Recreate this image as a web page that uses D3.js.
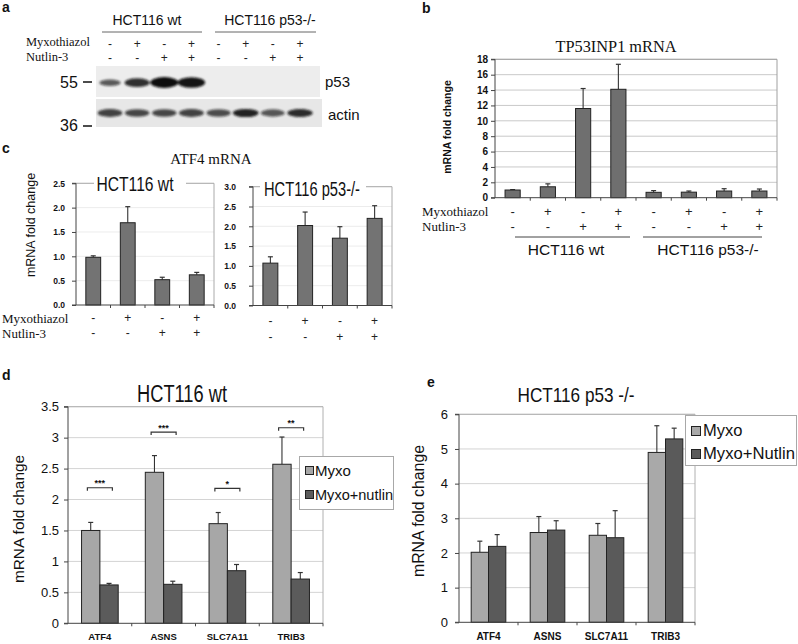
<!DOCTYPE html>
<html><head><meta charset="utf-8">
<script src="https://cdn.jsdelivr.net/npm/d3@7"></script>
<style>body{margin:0;background:#fff}svg{display:block}</style>
</head><body><script>
// ---------------- DATA ----------------
const myxoSigns   = ["-","+","-","+","-","+","-","+"];
const nutlinSigns = ["-","-","+","+","-","-","+","+"];
const blotLanes = [1,2,3,4,5,6,7,8];
const p53Intensity   = [0.45,0.75,1.0,0.95,0,0,0,0];
const actinIntensity = [0.8,0.75,0.75,0.8,0.72,0.95,0.68,0.9];

const tp53Lanes = ["L1","L2","L3","L4","L5","L6","L7","L8"];
const tp53Mean = [1.0,1.42,11.6,14.1,0.7,0.72,0.87,0.87];
const tp53Err  = [0.05,0.38,2.6,3.25,0.22,0.15,0.3,0.26];
const tp53Ticks = [0,2,4,6,8,10,12,14,16,18];

const atf4Lanes = ["L1","L2","L3","L4"];
const atf4WtMean = [0.98,1.69,0.52,0.62];
const atf4WtErr  = [0.03,0.33,0.05,0.05];
const atf4KoMean = [1.07,2.02,1.70,2.20];
const atf4KoErr  = [0.16,0.34,0.29,0.32];
const atf4WtTicks = [0,0.5,1.0,1.5,2.0,2.5];
const atf4KoTicks = [0,0.5,1.0,1.5,2.0,2.5,3.0];

const genes = ["ATF4","ASNS","SLC7A11","TRIB3"];
const dMyxo    = [1.5,2.44,1.61,2.57];
const dMyxoErr = [0.13,0.27,0.18,0.44];
const dNut     = [0.62,0.63,0.85,0.715];
const dNutErr  = [0.025,0.05,0.1,0.105];
const dSig      = ["***","***","*","**"];
const dSigLevel = [2.19,3.09,2.18,3.16];
const dTicks = [0,0.5,1,1.5,2,2.5,3,3.5];

const eMyxo    = [2.02,2.59,2.51,4.9];
const eMyxoErr = [0.32,0.46,0.34,0.77];
const eNut     = [2.19,2.66,2.44,5.29];
const eNutErr  = [0.34,0.27,0.78,0.31];
const eTicks = [0,1,2,3,4,5,6];

// ---------------- HELPERS ----------------
const SANS = "'Liberation Sans', Arial, sans-serif";
const SERIF = "'Liberation Serif', 'Times New Roman', serif";
const svg = d3.select("body").append("svg").attr("width",798).attr("height",644);
const defs = svg.append("defs");
defs.append("filter").attr("id","blur").attr("x","-50%").attr("y","-100%").attr("width","200%").attr("height","300%")
  .append("feGaussianBlur").attr("stdDeviation",1.3);

function txt(g,x,y,s,o={}){
  const t=g.append("text").attr("x",x).attr("y",y).text(s)
    .attr("font-family",o.font||SANS).attr("font-size",o.size||12)
    .attr("fill",o.fill||"#111").attr("text-anchor",o.anchor||"start");
  if(o.weight) t.attr("font-weight",o.weight);
  if(o.width) t.attr("textLength",o.width).attr("lengthAdjust","spacingAndGlyphs");
  if(o.rotate) t.attr("transform",`rotate(${o.rotate},${x},${y})`);
  return t;
}
function line(g,x1,y1,x2,y2,c,w){
  return g.append("line").attr("x1",x1).attr("y1",y1).attr("x2",x2).attr("y2",y2)
    .attr("stroke",c||"#222").attr("stroke-width",w||1);
}

function barChart(g,cfg){
  const x=d3.scaleBand().domain(cfg.cats).range([cfg.x0,cfg.x1]);
  const y=d3.scaleLinear().domain([0,cfg.max]).range([cfg.yb,cfg.yt]);
  const gw=x.bandwidth()*cfg.groupFrac, off=(x.bandwidth()-gw)/2;
  const inner=d3.scaleBand().domain(d3.range(cfg.series.length)).range([0,gw]);
  g.append("g").selectAll("line").data(cfg.ticks.filter(t=>t>0)).join("line")
    .attr("x1",cfg.x0).attr("x2",cfg.x1).attr("y1",d=>y(d)).attr("y2",d=>y(d))
    .attr("stroke",cfg.grid).attr("stroke-width",1);
  if(cfg.frame){
    line(g,cfg.x0,y(cfg.max),cfg.x1,y(cfg.max),cfg.frame,1);
    line(g,cfg.x1,y(cfg.max),cfg.x1,cfg.yb,cfg.frame,1);
  }
  cfg.series.forEach((s,si)=>{
    const bars=g.append("g");
    const cx=c=>x(c)+off+inner(si)+inner.bandwidth()/2;
    bars.append("g").selectAll("line").data(cfg.cats).join("line")
      .attr("x1",cx).attr("x2",cx)
      .attr("y1",(c,i)=>y(s.values[i])).attr("y2",(c,i)=>y(s.values[i]+s.errs[i]))
      .attr("stroke","#333").attr("stroke-width",1.1);
    bars.append("g").selectAll("line").data(cfg.cats).join("line")
      .attr("x1",c=>cx(c)-2.5).attr("x2",c=>cx(c)+2.5)
      .attr("y1",(c,i)=>y(s.values[i]+s.errs[i])).attr("y2",(c,i)=>y(s.values[i]+s.errs[i]))
      .attr("stroke","#333").attr("stroke-width",1.2);
    bars.append("g").selectAll("rect").data(cfg.cats).join("rect")
      .attr("x",c=>x(c)+off+inner(si)).attr("width",inner.bandwidth())
      .attr("y",(c,i)=>y(s.values[i])).attr("height",(c,i)=>cfg.yb-y(s.values[i]))
      .attr("fill",s.fill).attr("stroke","#222").attr("stroke-width",1);
  });
  const ts=cfg.tickSize||4;
  const ya=g.append("g").attr("transform",`translate(${cfg.x0},0)`)
    .call(d3.axisLeft(y).tickValues(cfg.ticks).tickFormat(cfg.fmt).tickSize(ts).tickPadding(cfg.pad||4));
  ya.select(".domain").attr("stroke","#444").attr("d",`M-${ts},${cfg.yb}H0V${y(cfg.max)}H-${ts}`);
  ya.selectAll(".tick line").attr("stroke","#444");
  ya.selectAll(".tick text").attr("font-family",SANS).attr("font-size",cfg.tickFont)
    .attr("font-weight",cfg.tickWeight||"normal").attr("fill","#111");
  const xa=g.append("g").attr("transform",`translate(0,${cfg.yb})`)
    .call(d3.axisBottom(x).tickSize(0).tickFormat(cfg.xfmt||(()=>"")).tickPadding(cfg.xpad||8));
  xa.select(".domain").attr("stroke","#444").attr("d",`M${cfg.x0},0H${cfg.x1}`);
  if(!cfg.xfmt) xa.selectAll(".tick text").remove();
  xa.selectAll(".tick text").attr("font-family",SANS).attr("font-size",cfg.xFont||9)
    .attr("font-weight","bold").attr("fill","#111");
  g.append("g").selectAll("line").data(cfg.cats.slice(1).concat([null])).join("line")
    .attr("x1",c=>c===null?cfg.x1:x(c)).attr("x2",c=>c===null?cfg.x1:x(c))
    .attr("y1",cfg.yb).attr("y2",cfg.yb+3).attr("stroke","#444");
  return {x,y,off,gw,inner};
}

function signRows(g,xs,y1,y2,size){
  const n=xs.length;
  [[myxoSigns.slice(0,n),y1],[nutlinSigns.slice(0,n),y2]].forEach(([arr,yy])=>{
    g.append("g").selectAll("text").data(arr).join("text")
      .attr("x",(d,i)=>xs[i]).attr("y",yy).text(d=>d)
      .attr("text-anchor","middle").attr("font-family",SANS).attr("font-size",size).attr("fill","#222");
  });
}

// ---------------- PANEL A ----------------
const A=svg.append("g");
txt(A,2,12,"a",{size:14,weight:"bold"});
txt(A,147,25,"HCT116 wt",{size:14,anchor:"middle"});
txt(A,270,25,"HCT116 p53-/-",{size:14,anchor:"middle"});
line(A,102,32,202,32,"#666",1);
line(A,215,32,316,32,"#666",1);
txt(A,26,46,"Myxothiazol",{size:12.5,font:SERIF});
txt(A,26,61,"Nutlin-3",{size:12.5,font:SERIF});
const lane=d3.scalePoint().domain(blotLanes).range([110,300]);
signRows(A,blotLanes.map(l=>lane(l)),48,62,12);
A.append("rect").attr("x",96).attr("y",66).attr("width",224).attr("height",31).attr("fill","#ededed");
A.append("rect").attr("x",96).attr("y",99).attr("width",226).attr("height",28).attr("fill","#e7e7e7");
A.append("g").attr("filter","url(#blur)").selectAll("ellipse").data(blotLanes.filter((l,i)=>p53Intensity[i]>0)).join("ellipse")
  .attr("cx",l=>lane(l)).attr("cy",l=>83-p53Intensity[l-1]*0.5)
  .attr("rx",l=>8+6*p53Intensity[l-1]).attr("ry",l=>1.6+3.8*p53Intensity[l-1])
  .attr("fill","#111").attr("opacity",l=>0.4+0.6*p53Intensity[l-1]);
A.append("g").attr("filter","url(#blur)").selectAll("ellipse").data(blotLanes).join("ellipse")
  .attr("cx",l=>lane(l)).attr("cy",113)
  .attr("rx",l=>10+3*actinIntensity[l-1]).attr("ry",l=>2.6+1.6*actinIntensity[l-1])
  .attr("fill","#151515").attr("opacity",l=>actinIntensity[l-1]);
txt(A,60,88,"55",{size:16});
line(A,83,82,92,82,"#111",1.5);
txt(A,60,131,"36",{size:16});
line(A,83,126,92,126,"#111",1.5);
txt(A,325,87,"p53",{size:15});
txt(A,328,120,"actin",{size:15});

// ---------------- PANEL B ----------------
const B=svg.append("g");
txt(B,422,13,"b",{size:14,weight:"bold"});
txt(B,616,52,"TP53INP1  mRNA",{size:16,font:SERIF,anchor:"middle",width:121});
const bc=barChart(B,{x0:495,x1:777,yb:197.7,yt:59.3,max:18,cats:tp53Lanes,
  series:[{values:tp53Mean,errs:tp53Err,fill:"#6f6f6f"}],groupFrac:0.43,ticks:tp53Ticks,
  fmt:d3.format("d"),grid:"#c9c9c9",frame:"#a0a0a0",tickFont:10,tickWeight:"bold",pad:3});
txt(B,451,127,"mRNA fold change",{size:10.5,weight:"bold",anchor:"middle",rotate:-90});
txt(B,422,216,"Myxothiazol",{size:13,font:SERIF});
txt(B,422,231,"Nutlin-3",{size:13,font:SERIF});
signRows(B,tp53Lanes.map(c=>bc.x(c)+bc.x.bandwidth()/2),216,231,13);
line(B,515,237,630,237,"#444",1);
line(B,643,237,762,237,"#444",1);
txt(B,566,255,"HCT116 wt",{size:15.5,anchor:"middle"});
txt(B,708,255,"HCT116 p53-/-",{size:15.5,anchor:"middle"});

// ---------------- PANEL C ----------------
const C=svg.append("g");
txt(C,2,153,"c",{size:14,weight:"bold"});
txt(C,211,164,"ATF4 mRNA",{size:15,font:SERIF,anchor:"middle"});
const cl=barChart(C,{x0:76,x1:214,yb:305,yt:183.3,max:2.5,cats:atf4Lanes,
  series:[{values:atf4WtMean,errs:atf4WtErr,fill:"#737373"}],groupFrac:0.43,ticks:atf4WtTicks,
  fmt:d3.format(".1f"),grid:"#ececec",frame:"#aaaaaa",tickFont:8.5,tickWeight:"bold",pad:7});
C.append("rect").attr("x",94).attr("y",174).attr("width",92).attr("height",20).attr("fill","#fff");
txt(C,135,191,"HCT116 wt",{size:20,anchor:"middle",width:77});
const cr=barChart(C,{x0:253,x1:392,yb:305.5,yt:186.7,max:3,cats:atf4Lanes,
  series:[{values:atf4KoMean,errs:atf4KoErr,fill:"#737373"}],groupFrac:0.43,ticks:atf4KoTicks,
  fmt:d3.format(".1f"),grid:"#ececec",frame:"#aaaaaa",tickFont:8.5,tickWeight:"bold",pad:13});
C.append("rect").attr("x",260).attr("y",178).attr("width",106).attr("height",20).attr("fill","#fff");
txt(C,312,196,"HCT116 p53-/-",{size:20,anchor:"middle",width:96});
txt(C,35,225,"mRNA fold change",{size:12.5,anchor:"middle",rotate:-90});
txt(C,2,323,"Myxothiazol",{size:13,font:SERIF});
txt(C,2,338,"Nutlin-3",{size:13,font:SERIF});
signRows(C,atf4Lanes.map(c=>cl.x(c)+cl.x.bandwidth()/2),322,337,12);
signRows(C,atf4Lanes.map(c=>cr.x(c)+cr.x.bandwidth()/2),325,341,12);

// ---------------- PANEL D ----------------
const D=svg.append("g");
txt(D,2,380,"d",{size:14,weight:"bold"});
txt(D,182,402,"HCT116 wt",{size:23,anchor:"middle",width:90});
const dc=barChart(D,{x0:68,x1:323,yb:623.3,yt:406.7,max:3.5,cats:genes,
  series:[{values:dMyxo,errs:dMyxoErr,fill:"#a7a7a7"},{values:dNut,errs:dNutErr,fill:"#5b5b5b"}],
  groupFrac:0.575,ticks:dTicks,fmt:d3.format(""),grid:"#d4d4d4",frame:"#b0b0b0",tickFont:13,pad:5,
  xfmt:d=>d,xFont:9.5,xpad:10});
const br=D.append("g");
genes.forEach((gname,i)=>{
  const cx=dc.x(gname)+dc.x.bandwidth()/2, yy=dc.y(dSigLevel[i]);
  br.append("path").attr("d",`M${cx-12.5},${yy+3}V${yy}H${cx+12.5}V${yy+3}`)
    .attr("fill","none").attr("stroke","#333").attr("stroke-width",1.2);
  txt(br,cx,yy-1.5,dSig[i],{size:9,anchor:"middle",weight:"bold"});
});
D.append("rect").attr("x",299.5).attr("y",456.5).attr("width",94).attr("height",53).attr("fill","#fff").attr("stroke","#a8a8a8");
D.append("rect").attr("x",305.5).attr("y",466.5).attr("width",8).attr("height",8).attr("fill","#a7a7a7").attr("stroke","#222");
D.append("rect").attr("x",305.5).attr("y",490.5).attr("width",8).attr("height",8).attr("fill","#5b5b5b").attr("stroke","#222");
txt(D,315,476,"Myxo",{size:15});
txt(D,315,500,"Myxo+nutlin",{size:15,width:78});
txt(D,24,519,"mRNA fold change",{size:15.5,anchor:"middle",rotate:-90,width:128});

// ---------------- PANEL E ----------------
const E=svg.append("g");
txt(E,427,387,"e",{size:14,weight:"bold"});
txt(E,576,402,"HCT116 p53 -/-",{size:21,anchor:"middle",width:117});
const ec=barChart(E,{x0:459,x1:695,yb:622.3,yt:414.3,max:6,cats:genes,
  series:[{values:eMyxo,errs:eMyxoErr,fill:"#a9a9a9"},{values:eNut,errs:eNutErr,fill:"#5a5a5a"}],
  groupFrac:0.587,ticks:eTicks,fmt:d3.format("d"),grid:"#d4d4d4",frame:"#b0b0b0",tickFont:13,pad:7,
  xfmt:d=>d,xFont:10,xpad:11});
E.append("rect").attr("x",685.5).attr("y",415.5).attr("width",111).attr("height",50).attr("fill","#fff").attr("stroke","#a8a8a8");
E.append("rect").attr("x",691.5).attr("y",426.5).attr("width",9).attr("height",9).attr("fill","#a9a9a9").attr("stroke","#222");
E.append("rect").attr("x",691.5).attr("y",449.5).attr("width",9).attr("height",9).attr("fill","#5a5a5a").attr("stroke","#222");
txt(E,703,436,"Myxo",{size:16.5});
txt(E,703,459,"Myxo+Nutlin",{size:16.5,width:92});
txt(E,424,511,"mRNA fold change",{size:16,anchor:"middle",rotate:-90,width:132});
</script></body></html>
